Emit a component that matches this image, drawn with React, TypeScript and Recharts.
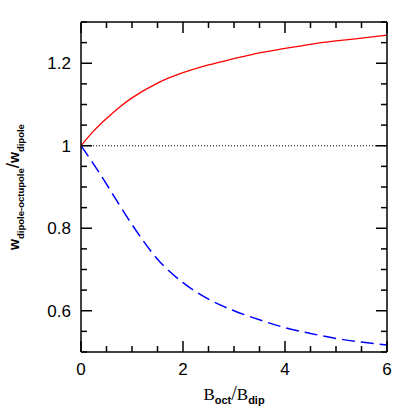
import React from 'react';
import { LineChart, Line, XAxis, YAxis, ReferenceLine } from 'recharts';

const xValues = [0, 0.25, 0.5, 0.75, 1, 1.5, 2, 2.5, 3, 3.5, 4, 4.5, 5, 5.5, 6];
const redValues = [1, 1.036, 1.066, 1.093, 1.116, 1.152, 1.177, 1.196, 1.211, 1.225, 1.236, 1.246, 1.254, 1.261, 1.268];
const blueValues = [1, 0.955, 0.907, 0.857, 0.809, 0.725, 0.668, 0.628, 0.6, 0.578, 0.559, 0.545, 0.533, 0.524, 0.517];

const xTicks = [0, 0.5, 1, 1.5, 2, 2.5, 3, 3.5, 4, 4.5, 5, 5.5, 6];
const xMajor = [0, 2, 4, 6];
const xTickLabels = ['0', '2', '4', '6'];
const yTicks = [0.5, 0.55, 0.6, 0.65, 0.7, 0.75, 0.8, 0.85, 0.9, 0.95, 1, 1.05, 1.1, 1.15, 1.2, 1.25, 1.3];
const yMajor = [0.6, 0.8, 1, 1.2];
const yTickLabels = ['0.6', '0.8', '1', '1.2'];

const data = xValues.map((x, i) => ({ x, red: redValues[i], blue: blueValues[i] }));

const MAJOR = 11;
const MINOR = 6;
const FONT = '"Liberation Sans", Arial, sans-serif';
const SERIF = '"Liberation Serif", "Times New Roman", serif';

const majorIndex = (arr: number[], v: number) => arr.findIndex((m) => Math.abs(m - v) < 1e-6);

const BottomTick = (props: any) => {
  const { x, y, payload } = props;
  const mi = majorIndex(xMajor, payload.value);
  const len = mi >= 0 ? MAJOR : MINOR;
  return (
    <g>
      <line x1={x} x2={x} y1={y} y2={y - len} stroke="#000" strokeWidth={1.5} />
      {mi >= 0 && (
        <text x={x} y={y + 23} textAnchor="middle" fontFamily={FONT} fontSize={17} fill="#000">
          {xTickLabels[mi]}
        </text>
      )}
    </g>
  );
};

const TopTick = (props: any) => {
  const { x, y, payload } = props;
  const mi = majorIndex(xMajor, payload.value);
  const len = mi >= 0 ? MAJOR : MINOR;
  return <line x1={x} x2={x} y1={y} y2={y + len} stroke="#000" strokeWidth={1.5} />;
};

const LeftTick = (props: any) => {
  const { x, y, payload } = props;
  const mi = majorIndex(yMajor, payload.value);
  const len = mi >= 0 ? MAJOR : MINOR;
  return (
    <g>
      <line x1={x} x2={x + len} y1={y} y2={y} stroke="#000" strokeWidth={1.5} />
      {mi >= 0 && (
        <text x={x - 10} y={y + 6} textAnchor="end" fontFamily={FONT} fontSize={17} fill="#000">
          {yTickLabels[mi]}
        </text>
      )}
    </g>
  );
};

const RightTick = (props: any) => {
  const { x, y, payload } = props;
  const mi = majorIndex(yMajor, payload.value);
  const len = mi >= 0 ? MAJOR : MINOR;
  return <line x1={x} x2={x - len} y1={y} y2={y} stroke="#000" strokeWidth={1.5} />;
};

export default function App() {
  return (
    <div style={{ position: 'absolute', left: 0, top: 0, width: 409, height: 409, background: '#fff' }}>
      <LineChart width={409} height={409} data={data} margin={{ top: 2, right: 2, bottom: 0, left: 0 }}>
        <XAxis
          xAxisId="bottom"
          dataKey="x"
          type="number"
          domain={[0, 6]}
          ticks={xTicks}
          orientation="bottom"
          height={57}
          tickSize={0}
          tickMargin={0}
          tickLine={false}
          axisLine={{ stroke: '#000', strokeWidth: 1.5 }}
          tick={BottomTick}
          interval={0}
          allowDataOverflow
        />
        <XAxis
          xAxisId="top"
          dataKey="x"
          type="number"
          domain={[0, 6]}
          ticks={xTicks}
          orientation="top"
          height={20}
          tickSize={0}
          tickMargin={0}
          tickLine={false}
          axisLine={{ stroke: '#000', strokeWidth: 1.5 }}
          tick={TopTick}
          interval={0}
          allowDataOverflow
        />
        <YAxis
          yAxisId="left"
          type="number"
          domain={[0.5, 1.3]}
          ticks={yTicks}
          orientation="left"
          width={81}
          tickSize={0}
          tickMargin={0}
          tickLine={false}
          axisLine={{ stroke: '#000', strokeWidth: 1.5 }}
          tick={LeftTick}
          interval={0}
          allowDataOverflow
        />
        <YAxis
          yAxisId="right"
          type="number"
          domain={[0.5, 1.3]}
          ticks={yTicks}
          orientation="right"
          width={20}
          tickSize={0}
          tickMargin={0}
          tickLine={false}
          axisLine={{ stroke: '#000', strokeWidth: 1.5 }}
          tick={RightTick}
          interval={0}
          allowDataOverflow
        />
        <ReferenceLine
          xAxisId="bottom"
          yAxisId="left"
          y={1}
          stroke="#000"
          strokeWidth={1}
          strokeDasharray="1 2"
        />
        <Line
          xAxisId="bottom"
          yAxisId="left"
          type="monotone"
          dataKey="red"
          stroke="#ff0000"
          strokeWidth={1.3}
          dot={false}
          isAnimationActive={false}
        />
        <Line
          xAxisId="bottom"
          yAxisId="left"
          type="monotone"
          dataKey="blue"
          stroke="#0000ff"
          strokeWidth={1.5}
          strokeDasharray="13 6"
          dot={false}
          isAnimationActive={false}
        />
      </LineChart>
      <svg
        width={409}
        height={409}
        style={{ position: 'absolute', left: 0, top: 0, pointerEvents: 'none' }}
      >
        <text x={234} y={400} textAnchor="middle" fill="#000">
          <tspan fontFamily={SERIF} fontSize={17}>B</tspan>
          <tspan fontFamily={FONT} fontWeight="bold" fontSize={11} dy={4}>oct</tspan>
          <tspan fontFamily={SERIF} fontSize={20} dy={-4}>/</tspan>
          <tspan fontFamily={SERIF} fontSize={17}>B</tspan>
          <tspan fontFamily={FONT} fontWeight="bold" fontSize={11} dy={4}>dip</tspan>
        </text>
        <text
          x={19}
          y={187}
          transform="rotate(-90 19 187)"
          textAnchor="middle"
          fill="#000"
          fontFamily={FONT}
        >
          <tspan fontWeight="bold" fontSize={14}>w</tspan>
          <tspan fontWeight="bold" fontSize={9.5} dy={5}>dipole-octupole</tspan>
          <tspan fontSize={19} dy={-5}>/</tspan>
          <tspan fontWeight="bold" fontSize={14}>w</tspan>
          <tspan fontWeight="bold" fontSize={9.5} dy={5}>dipole</tspan>
        </text>
      </svg>
    </div>
  );
}
